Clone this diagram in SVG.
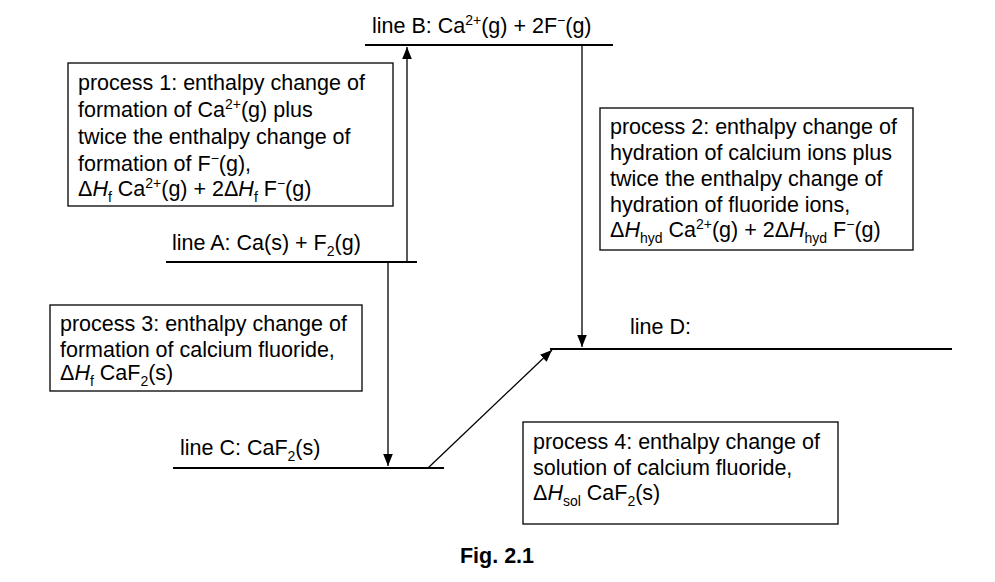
<svg xmlns="http://www.w3.org/2000/svg" width="995" height="582" viewBox="0 0 995 582">
<style>
text{font-family:"Liberation Sans",Arial,sans-serif;font-size:21.5px;fill:#000}
.ln{stroke:#000;stroke-width:2;fill:none}
.bx{stroke:#000;stroke-width:1.3;fill:#fff}
.c{stroke:#000;stroke-width:1.3;fill:none}
.s{font-size:14px}
</style>
<defs>
<marker id="ah" viewBox="0 0 10 10" refX="10" refY="5" markerWidth="12" markerHeight="12" markerUnits="userSpaceOnUse" orient="auto">
<path d="M0,1 L10,5 L0,9 Z" fill="#000"/>
</marker>
</defs>
<rect width="995" height="582" fill="#fff"/>
<g id="lineB"><line class="ln" x1="365" y1="45" x2="613" y2="45"/>
<text x="372" y="33">line B: Ca<tspan class="s" dy="-8">2+</tspan><tspan dy="8">(g) + 2F</tspan><tspan class="s" dy="-8">−</tspan><tspan dy="8">(g)</tspan></text></g>
<g id="lineA"><line class="ln" x1="166" y1="262" x2="417" y2="262"/>
<text x="172" y="250">line A: Ca(s) + F<tspan class="s" dy="6">2</tspan><tspan dy="-6">(g)</tspan></text></g>
<g id="lineC"><line class="ln" x1="173" y1="468" x2="444" y2="468"/>
<text x="180" y="455">line C: CaF<tspan class="s" dy="6">2</tspan><tspan dy="-6">(s)</tspan></text></g>
<g id="lineD"><line class="ln" x1="550" y1="349" x2="952" y2="349"/>
<text x="630" y="334">line D:</text></g>
<g id="connectors">
<line class="c" x1="407" y1="262" x2="407" y2="47" marker-end="url(#ah)"/>
<line class="c" x1="582" y1="45" x2="582" y2="347" marker-end="url(#ah)"/>
<line class="c" x1="388" y1="262" x2="388" y2="466" marker-end="url(#ah)"/>
<line class="c" x1="428" y1="468" x2="552" y2="350" marker-end="url(#ah)"/>
</g>
<g id="process1"><rect class="bx" x="68" y="63" width="325" height="143"/>
<text x="78" y="90">process 1: enthalpy change of</text>
<text x="78" y="117">formation of Ca<tspan class="s" dy="-8">2+</tspan><tspan dy="8">(g) plus</tspan></text>
<text x="78" y="144">twice the enthalpy change of</text>
<text x="78" y="171">formation of F<tspan class="s" dy="-8">−</tspan><tspan dy="8">(g),</tspan></text>
<text x="78" y="196">Δ<tspan font-style="italic">H</tspan><tspan class="s" dy="6">f</tspan><tspan dy="-6"> Ca</tspan><tspan class="s" dy="-8">2+</tspan><tspan dy="8">(g) + 2Δ</tspan><tspan font-style="italic">H</tspan><tspan class="s" dy="6">f</tspan><tspan dy="-6"> F</tspan><tspan class="s" dy="-8">−</tspan><tspan dy="8">(g)</tspan></text></g>
<g id="process2"><rect class="bx" x="600" y="108" width="313" height="142"/>
<text x="610" y="134">process 2: enthalpy change of</text>
<text x="610" y="160">hydration of calcium ions plus</text>
<text x="610" y="186">twice the enthalpy change of</text>
<text x="610" y="212">hydration of fluoride ions,</text>
<text x="610" y="237">Δ<tspan font-style="italic">H</tspan><tspan class="s" dy="6">hyd</tspan><tspan dy="-6"> Ca</tspan><tspan class="s" dy="-8">2+</tspan><tspan dy="8">(g) + 2Δ</tspan><tspan font-style="italic">H</tspan><tspan class="s" dy="6">hyd</tspan><tspan dy="-6"> F</tspan><tspan class="s" dy="-8">−</tspan><tspan dy="8">(g)</tspan></text></g>
<g id="process3"><rect class="bx" x="50" y="305" width="312" height="86"/>
<text x="60" y="331">process 3: enthalpy change of</text>
<text x="60" y="357">formation of calcium fluoride,</text>
<text x="60" y="380">Δ<tspan font-style="italic">H</tspan><tspan class="s" dy="6">f</tspan><tspan dy="-6"> CaF</tspan><tspan class="s" dy="6">2</tspan><tspan dy="-6">(s)</tspan></text></g>
<g id="process4"><rect class="bx" x="523" y="422" width="315" height="102"/>
<text x="533" y="449">process 4: enthalpy change of</text>
<text x="533" y="475">solution of calcium fluoride,</text>
<text x="533" y="500">Δ<tspan font-style="italic">H</tspan><tspan class="s" dy="6">sol</tspan><tspan dy="-6"> CaF</tspan><tspan class="s" dy="6">2</tspan><tspan dy="-6">(s)</tspan></text></g>
<text x="497" y="563" text-anchor="middle" font-weight="bold" font-size="17">Fig. 2.1</text>
</svg>
